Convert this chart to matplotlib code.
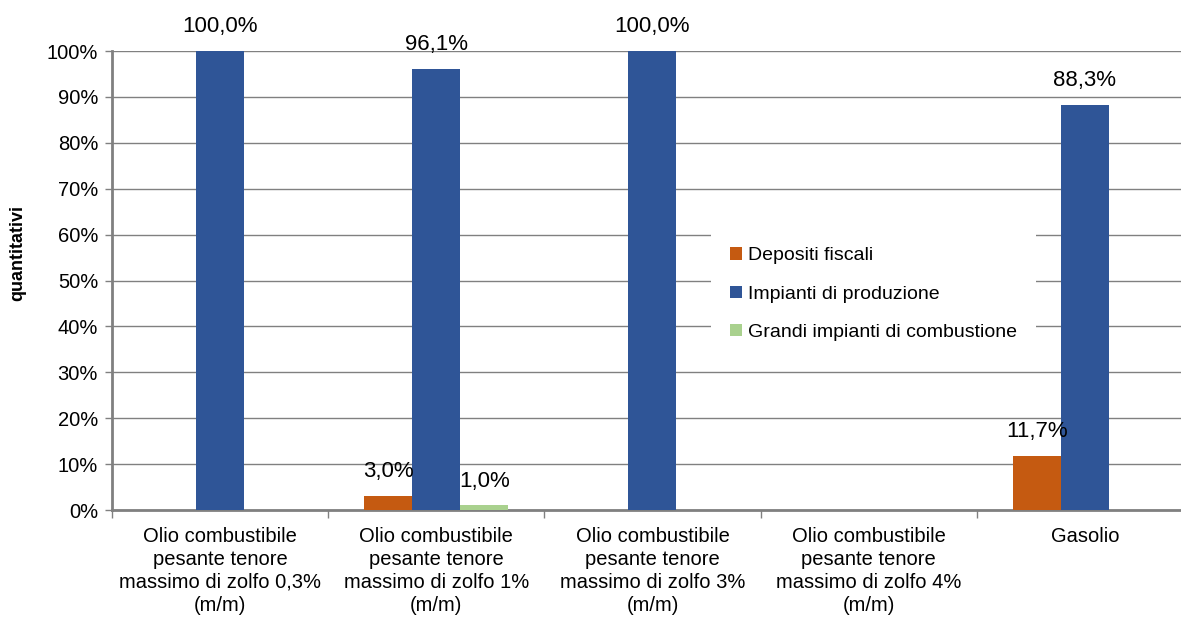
import matplotlib.pyplot as plt
import numpy as np

plt.rcParams['font.family'] = ['Liberation Sans', 'DejaVu Sans']

categories = [
    "Olio combustibile\npesante tenore\nmassimo di zolfo 0,3%\n(m/m)",
    "Olio combustibile\npesante tenore\nmassimo di zolfo 1%\n(m/m)",
    "Olio combustibile\npesante tenore\nmassimo di zolfo 3%\n(m/m)",
    "Olio combustibile\npesante tenore\nmassimo di zolfo 4%\n(m/m)",
    "Gasolio",
]
series_names = ["Depositi fiscali", "Impianti di produzione", "Grandi impianti di combustione"]
depositi = [0.0, 3.0, 0.0, 0.0, 11.7]
impianti = [100.0, 96.1, 100.0, 0.0, 88.3]
grandi = [0.0, 1.0, 0.0, 0.0, 0.0]
colors = ["#C55A11", "#2F5597", "#A9D18E"]

fig = plt.figure(figsize=(11.81, 6.19), dpi=100)
# the plot area runs a little past the right edge of the picture
ax = fig.add_axes([0.0948, 0.176, 0.9153, 0.7416])

x = np.arange(len(categories))
w = 0.222
for i, (vals, name, c) in enumerate(zip([depositi, impianti, grandi], series_names, colors)):
    pos = x + (i - 1) * w
    ax.bar(pos, vals, width=w, color=c, label=name, zorder=3)
    for p, v in zip(pos, vals):
        if v > 0:
            ax.annotate(f"{v:.1f}%".replace(".", ","), (p, v), xytext=(0, 10),
                        textcoords="offset points", ha="center", va="bottom",
                        fontsize=16, zorder=4)

ax.set_xlim(-0.5, len(categories) - 0.5)
ax.set_ylim(0, 100)
ax.set_yticks(range(0, 101, 10))
ax.set_yticklabels([f"{t}%" for t in range(0, 101, 10)], fontsize=14.5)
ax.yaxis.grid(True, color="#808080", linewidth=1, zorder=0)

ax.set_xticks(x)
ax.set_xticklabels(categories, fontsize=14.5, linespacing=1.27)
ax.tick_params(axis="x", length=0, pad=12)
ax.set_xticks(np.arange(-0.5, len(categories)), minor=True)
ax.tick_params(axis="x", which="minor", length=6, color="#808080", width=1)
ax.tick_params(axis="y", length=5, color="#808080", width=1, pad=5)

for s in ["top", "right"]:
    ax.spines[s].set_visible(False)
ax.spines["left"].set_color("#808080")
ax.spines["left"].set_linewidth(2)
ax.spines["bottom"].set_color("#808080")
ax.spines["bottom"].set_linewidth(2)

ax.set_ylabel("quantitativi", fontsize=13, fontweight="bold")
ax.yaxis.set_label_coords(-0.079, 0.56)

leg = ax.legend(loc="upper left", bbox_to_anchor=(0.554, 0.615), frameon=True,
                fontsize=14, handlelength=0.6, handleheight=0.6, handletextpad=0.3,
                labelspacing=1.1, borderpad=1.0, borderaxespad=0)
leg.get_frame().set_edgecolor("none")
leg.get_frame().set_facecolor("white")
leg.get_frame().set_alpha(1)
leg.get_frame().set_boxstyle("square", pad=0)
leg.set_zorder(5)

fig.savefig("out.png", dpi=100)
